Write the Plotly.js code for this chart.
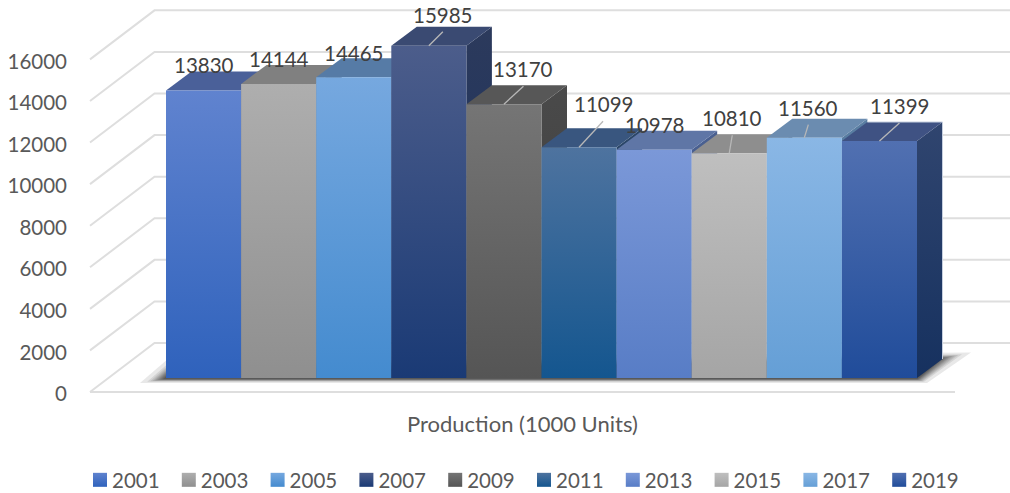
<!DOCTYPE html>
<html><head><meta charset="utf-8">
<script src="https://cdn.plot.ly/plotly-3.0.1.min.js"></script>
<style>html,body{margin:0;padding:0;background:#fff}</style></head>
<body><div id="chart" style="width:1010px;height:493px"></div>
<script>
// ---- data ----
const years = ['2001','2003','2005','2007','2009','2011','2013','2015','2017','2019'];
const production = [13830,14144,14465,15985,13170,11099,10978,10810,11560,11399];
const tickValues = [0,2000,4000,6000,8000,10000,12000,14000,16000];
const faceTop    = ['#6083cf','#aeaeae','#76a8df','#4c5d8b','#757575','#4e739f','#7b98d8','#bfbfbf','#8ab7e5','#5170b1'];
const faceBottom = ['#2f62bc','#8f8f8f','#448bcf','#1a3a75','#555555','#14568f','#587dc6','#a5a5a5','#659fd6','#204c9a'];
const capColor   = ['#4a6099','#808080','#567ba6','#3a4a72','#575757','#39567f','#5f76a6','#8e8e8e','#6b8cb0','#3f5283'];
const sideTop    = ['#34487a','#666666','#44658a','#2c3a5c','#4a4a4a','#2c4668','#4a6090','#757575','#5a7ea2','#30456f'];
const sideBottom = ['#1f3f7d','#5a5a5a','#2f5e8f','#152f5f','#3a3a3a','#0f3c66','#3c5a92','#6a6a6a','#47719b','#16315f'];
// label offset from the bar's top-centre, in pixels (right, up)
const labelDX = [0,0,0,14,19.5,24,0,3,4,20];
const labelDY = [25,25,24,31,35,43,25,35,30,35];
const hasLeader = [false,false,false,true,true,true,false,true,true,true];

// ---- geometry of the oblique projection ----
const pxPerBar = 75.1, pxPerUnit = 0.02079;
const plotL = 88, plotR = 1010, plotB = 395, zeroPx = 392, barLeft = 166;
const floorL = 90, floorR = 955;
const xOf = px => (px - barLeft) / pxPerBar;       // pixel column -> bar units
const dX = px => px / pxPerBar;
const dY = px => px / pxPerUnit;
const barDepthX = dX(25.5), barDepthY = dY(19);
const wallDepthX = dX(64.5), wallDepthY = dY(49);
const basePlane = dY(14);
const n = years.length;

const traces = [];
// gridlines: wall and floor
tickValues.forEach(v => {
  traces.push({type:'scatter',mode:'lines',x:[xOf(floorL),xOf(floorL)+wallDepthX,xOf(floorR)+wallDepthX],
    y:[v,v+wallDepthY,v+wallDepthY],line:{color:'#dedede',width:2},showlegend:false,hoverinfo:'skip'});
});
traces.push({type:'scatter',mode:'lines',x:[xOf(floorL),xOf(floorR)],y:[0,0],line:{color:'#dedede',width:2},
  showlegend:false,hoverinfo:'skip'});
// floor shadow: nested translucent layers, denser towards the bars, give a soft edge
const shadowLayers = [0,1,2,3,4,5,6,7,8,9,10,11];
shadowLayers.forEach(k => {
  const t = Math.sqrt(k / (shadowLayers.length-1));
  traces.push({type:'scatter',mode:'lines',fill:'toself',line:{width:0},fillcolor:'rgba(30,30,30,0.10)',
    x:[dX(-26+t*24),dX(3),n+dX(54-t*30),n+dX(10-t*10)],
    y:[basePlane-dY(5-t*4),basePlane+dY(20-t*16),basePlane+dY(25.5-t*6),basePlane-dY(5-t*4)],
    showlegend:false,hoverinfo:'skip'});
});
// bars, drawn left to right so the next front face hides the previous side
years.forEach((yr,i) => {
  const v = production[i], top = basePlane+v;
  const common = {type:'scatter',mode:'lines',fill:'toself',line:{width:0},showlegend:false,legendgroup:yr,name:yr,hoverinfo:'skip'};
  traces.push({...common,x:[i+1,i+1+barDepthX,i+1+barDepthX,i+1,i+1],
    y:[top,top+barDepthY,basePlane+barDepthY,basePlane,top],
    fillgradient:{type:'vertical',colorscale:[[0,sideBottom[i]],[1,sideTop[i]]]}});
  traces.push({...common,x:[i,i+barDepthX,i+1+barDepthX,i+1,i],y:[top,top+barDepthY,top+barDepthY,top,top],fillcolor:capColor[i]});
  traces.push({...common,x:[i,i+1,i+1,i,i],y:[basePlane,basePlane,top,top,basePlane],
    fillgradient:{type:'vertical',colorscale:[[0,faceBottom[i]],[1,faceTop[i]]]},
    hoverinfo:'text',text:yr+': '+v});
});
// faint light rim on the last bar's side
traces.push({type:'scatter',mode:'lines',line:{color:'#c6cfdf',width:1},showlegend:false,hoverinfo:'skip',
  x:[n-1+barDepthX,n+barDepthX,n+barDepthX],y:[basePlane+production[n-1]+barDepthY,basePlane+production[n-1]+barDepthY,basePlane+barDepthY]});
// leader lines
years.forEach((yr,i) => {
  if(!hasLeader[i]) return;
  traces.push({type:'scatter',mode:'lines',x:[i+0.5,i+0.5+dX(labelDX[i])],
    y:[basePlane+production[i],basePlane+production[i]+dY(labelDY[i]-17)],
    line:{color:'#b8b8b8',width:1.3},showlegend:false,hoverinfo:'skip'});
});
// legend entries
years.forEach((yr,i) => {
  traces.push({type:'scatter',mode:'markers',x:[null],y:[null],name:yr,legendgroup:yr,
    marker:{symbol:'square',size:14,color:faceTop[i],gradient:{type:'vertical',color:faceBottom[i]}}});
});
const annotations = years.map((yr,i)=>({
  x:i+0.5,y:basePlane+production[i],xref:'x',yref:'y',text:String(production[i]),showarrow:false,
  xshift:labelDX[i],yshift:labelDY[i],xanchor:'center',yanchor:'middle',
  font:{family:'Lato',size:20.5,color:'#404040'}}));
annotations.push({x:(xOf(floorL)+xOf(floorR))/2,xref:'x',y:0,yref:'paper',yshift:-28,yanchor:'middle',xanchor:'center',
  showarrow:false,text:'Production (1000 Units)',font:{family:'Lato',size:22,color:'#595959'}});

const layout = {
  width:1010,height:493,paper_bgcolor:'#fff',plot_bgcolor:'#fff',showlegend:true,
  font:{family:'Lato',size:20.5,color:'#595959'},
  margin:{l:plotL,r:1010-plotR,t:0,b:493-plotB,pad:0,autoexpand:false},
  xaxis:{range:[xOf(plotL),xOf(plotR)],showgrid:false,zeroline:false,showline:false,showticklabels:false,ticks:''},
  yaxis:{range:[(zeroPx-plotB)/pxPerUnit,zeroPx/pxPerUnit],tickvals:tickValues,ticktext:tickValues.map(String),showgrid:false,zeroline:false,showline:false,
    ticks:'',ticklabelstandoff:20,ticklabelshift:2,tickfont:{family:'Lato',size:20.5,color:'#595959'}},
  legend:{orientation:'h',x:80/1010,xref:'container',xanchor:'left',y:1-480/493,yref:'container',yanchor:'middle',
    entrywidth:43.8,entrywidthmode:'pixels',traceorder:'normal',font:{family:'Lato',size:20.5,color:'#595959'},bgcolor:'rgba(0,0,0,0)'},
  annotations
};
Plotly.newPlot('chart',traces,layout,{displayModeBar:false,responsive:false}).then(()=>{
  // tighten the gap between legend swatch and its text, as in the reference
  document.querySelectorAll('#chart .legendtext').forEach(t=>{
    t.setAttribute('x', parseFloat(t.getAttribute('x'))-8);
  });
});
</script></body></html>
